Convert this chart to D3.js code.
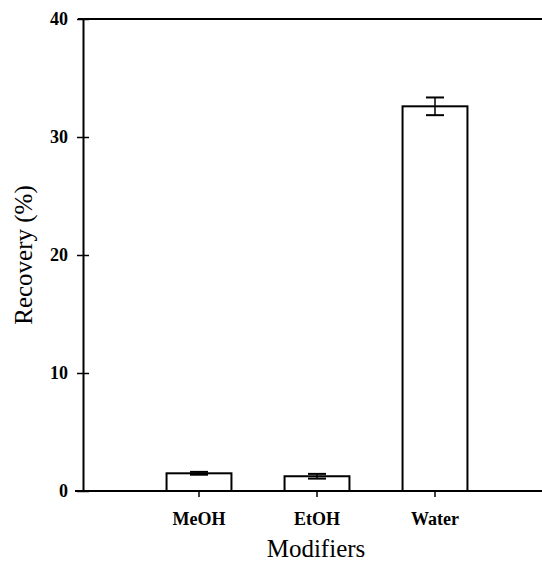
<!DOCTYPE html>
<html>
<head>
<meta charset="utf-8">
<script src="https://cdn.jsdelivr.net/npm/d3@7"></script>
<style>
  body { margin: 0; background: #fff; }
</style>
</head>
<body>
<svg id="chart" width="542" height="563"></svg>
<script>
const categories = ["MeOH", "EtOH", "Water"];
const recovery = [1.5, 1.25, 32.6];
const errors = [0.12, 0.2, 0.75];
const yTicks = [0, 10, 20, 30, 40];

const serif = '"Liberation Serif", "Times New Roman", serif';
const svg = d3.select('#chart');

const plotLeft = 83, plotRight = 542, plotTop = 19, plotBottom = 491;

const y = d3.scaleLinear().domain([0, 40]).range([plotBottom, plotTop]);
const x = d3.scaleBand()
  .domain(categories)
  .range([140, 494])
  .paddingInner(0.45)
  .paddingOuter(0.225);

// top frame line runs to the right edge
svg.append('line')
  .attr('x1', plotLeft - 5).attr('x2', plotRight)
  .attr('y1', plotTop).attr('y2', plotTop)
  .attr('stroke', '#000').attr('stroke-width', 2);

// bars
svg.selectAll('.bar')
  .data(categories)
  .enter()
  .append('rect')
  .attr('class', 'bar')
  .attr('x', d => x(d))
  .attr('width', x.bandwidth())
  .attr('y', (d, i) => y(recovery[i]))
  .attr('height', (d, i) => plotBottom - y(recovery[i]))
  .attr('fill', '#fff')
  .attr('stroke', '#000')
  .attr('stroke-width', 2);

// error bars
const err = svg.selectAll('.err')
  .data(categories)
  .enter()
  .append('g')
  .attr('class', 'err')
  .attr('transform', d => `translate(${x(d) + x.bandwidth() / 2},0)`);

err.append('line')
  .attr('y1', (d, i) => y(recovery[i] + errors[i]))
  .attr('y2', (d, i) => y(recovery[i] - errors[i]))
  .attr('stroke', '#000').attr('stroke-width', 1.5);

err.selectAll('.cap')
  .data((d, i) => [recovery[i] + errors[i], recovery[i] - errors[i]])
  .enter()
  .append('line')
  .attr('x1', -9).attr('x2', 9)
  .attr('y1', v => y(v)).attr('y2', v => y(v))
  .attr('stroke', '#000').attr('stroke-width', 2);

// x axis
const xAxis = svg.append('g')
  .attr('transform', `translate(0,${plotBottom})`)
  .call(d3.axisBottom(x).tickSize(6).tickSizeOuter(0).tickPadding(15));
xAxis.select('.domain').remove();
xAxis.append('line')
  .attr('x1', plotLeft - 8).attr('x2', plotRight)
  .attr('stroke', '#000').attr('stroke-width', 2);
xAxis.selectAll('.tick line').attr('stroke-width', 1.5);
xAxis.selectAll('text')
  .attr('font-size', 18).attr('font-weight', 'bold')
  .attr('font-family', serif).attr('fill', '#000');

// y axis
const yAxis = svg.append('g')
  .attr('transform', `translate(${plotLeft},0)`)
  .call(d3.axisLeft(y).tickValues(yTicks).tickSize(6).tickSizeOuter(0).tickPadding(9));
yAxis.select('.domain').attr('stroke-width', 2);
yAxis.selectAll('.tick line').attr('x2', -6).attr('x1', 6).attr('stroke-width', 1.5);
yAxis.selectAll('text')
  .attr('font-size', 18).attr('font-weight', 'bold')
  .attr('font-family', serif).attr('fill', '#000');

// axis titles
svg.append('text')
  .attr('transform', `translate(32,${(plotTop + plotBottom) / 2}) rotate(-90)`)
  .attr('text-anchor', 'middle')
  .attr('font-family', serif)
  .attr('font-size', 25)
  .text('Recovery (%)');

svg.append('text')
  .attr('x', 316).attr('y', 557)
  .attr('text-anchor', 'middle')
  .attr('font-family', serif)
  .attr('font-size', 25)
  .text('Modifiers');
</script>
</body>
</html>
